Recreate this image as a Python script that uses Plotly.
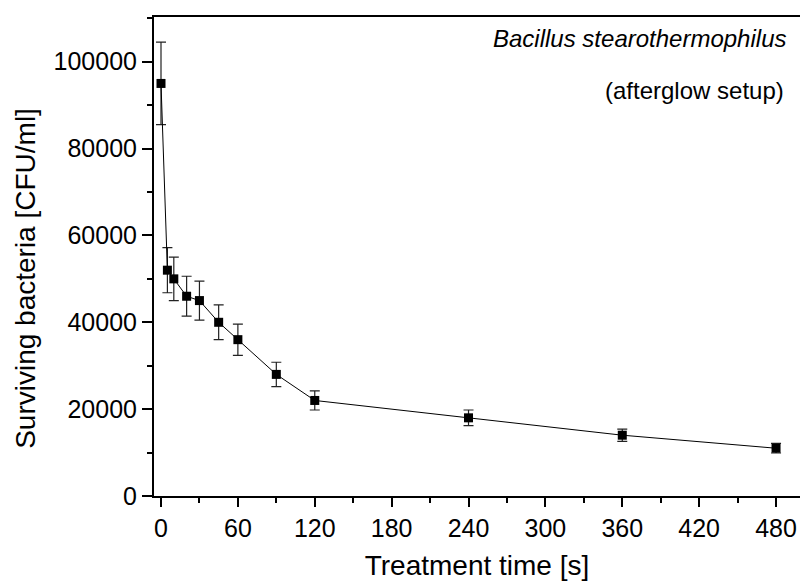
import plotly.graph_objects as go

time_s = [0, 5, 10, 20, 30, 45, 60, 90, 120, 240, 360, 480]
cfu = [95000, 52000, 50000, 46000, 45000, 40000, 36000, 28000, 22000, 18000, 14000, 11000]
err = [9500, 5200, 5000, 4600, 4500, 4000, 3600, 2800, 2200, 1800, 1400, 1100]
x_ticks = [0, 60, 120, 180, 240, 300, 360, 420, 480]
y_ticks = [0, 20000, 40000, 60000, 80000, 100000]

FONT = "Liberation Sans, Arial, sans-serif"

fig = go.Figure()
fig.add_trace(go.Scatter(
    x=time_s, y=cfu, mode="lines+markers",
    line=dict(color="black", width=1),
    marker=dict(symbol="square", size=9, color="black"),
    error_y=dict(type="data", array=err, visible=True, color="#222", thickness=1.2, width=5),
    showlegend=False,
))

fig.update_layout(
    width=800, height=581,
    margin=dict(l=154, r=0, t=17, b=85),
    paper_bgcolor="white", plot_bgcolor="white",
    font=dict(family=FONT, size=26, color="black"),
    xaxis=dict(
        range=[-5.46, 498.7], tickvals=x_ticks, ticktext=[str(v) for v in x_ticks],
        showgrid=False, zeroline=False, showline=True, linecolor="black", linewidth=2,
        mirror=True, ticks="outside", ticklen=9, tickwidth=1.5, tickcolor="black",
        minor=dict(dtick=30, tick0=0, ticks="outside", ticklen=5, tickwidth=1.5, tickcolor="black"),
        tickfont=dict(size=25),
        title=dict(text="Treatment time [s]", font=dict(size=28), standoff=14),
    ),
    yaxis=dict(
        range=[0, 110300], tickvals=y_ticks, ticktext=[str(v) for v in y_ticks],
        showgrid=False, zeroline=False, showline=True, linecolor="black", linewidth=2,
        ticks="outside", ticklen=10, tickwidth=1.5, tickcolor="black",
        minor=dict(dtick=10000, tick0=0, ticks="outside", ticklen=5, tickwidth=1.5, tickcolor="black"),
        tickfont=dict(size=25),
    ),
    annotations=[
        dict(text="Surviving bacteria [CFU/ml]", xref="paper", yref="paper",
             x=-0.2, y=0.455, xanchor="center", yanchor="middle", showarrow=False,
             textangle=-90, font=dict(size=28)),
        dict(text="<i>Bacillus stearothermophilus</i>", xref="paper", yref="paper",
             x=0.981, y=0.956, xanchor="right", yanchor="middle", showarrow=False,
             font=dict(size=24)),
        dict(text="(afterglow setup)", xref="paper", yref="paper",
             x=0.978, y=0.846, xanchor="right", yanchor="middle", showarrow=False,
             font=dict(size=24)),
    ],
)

fig.write_html("out.html")
